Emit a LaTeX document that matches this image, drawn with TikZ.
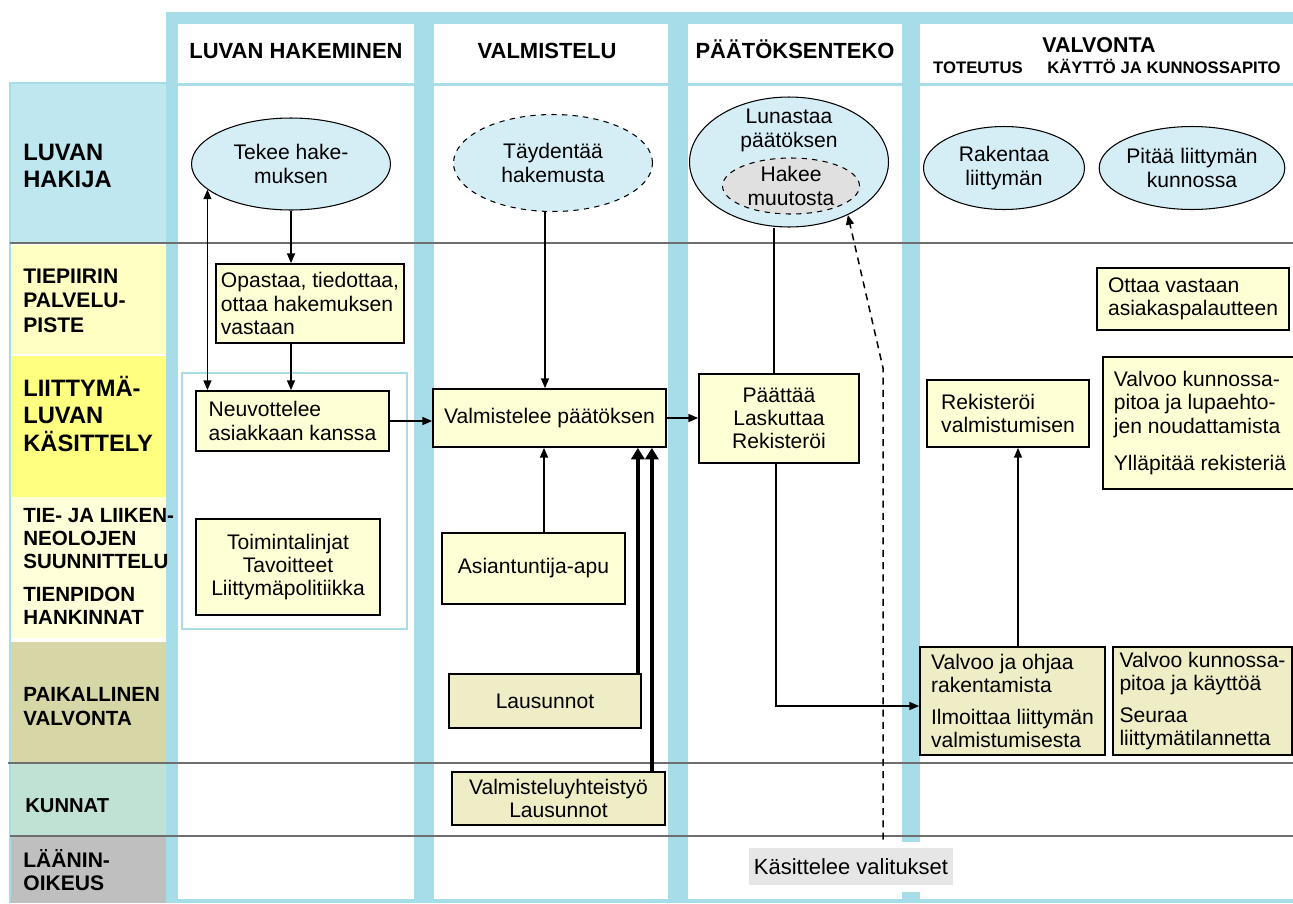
\documentclass[tikz,border=0pt]{standalone}
\usepackage{fontspec}
\setmainfont{Liberation Sans}
\usetikzlibrary{arrows.meta,shapes.geometric}
\definecolor{VYsininen}{HTML}{A6DDE9}
\definecolor{VYsoikio}{HTML}{D5EEF5}
\definecolor{VYlaatikko}{HTML}{FFFFD5}
\definecolor{VYkhaki}{HTML}{EFEDC6}
\definecolor{VYharmaa}{HTML}{E0E0E0}
\definecolor{VYvalitus}{HTML}{E6E6E6}
\definecolor{VYviiva}{HTML}{6E6E6E}
\definecolor{rHakija}{HTML}{BEE7F0}
\definecolor{rPalvelu}{HTML}{FFFFC4}
\definecolor{rKasittely}{HTML}{FFFF80}
\definecolor{rSuunnittelu}{HTML}{FFFFDA}
\definecolor{rValvonta}{HTML}{D6D6A6}
\definecolor{rKunnat}{HTML}{BFE2D4}
\definecolor{rOikeus}{HTML}{BFBFBF}
\newcommand{\leipa}{\fontsize{12}{13.2}\selectfont}
\newcommand{\sarake}[2]{%
  \fill[white] (#1,24) rectangle (#2,83);
  \fill[white] (#1,86) rectangle (#2,899);}
\newcommand{\rivi}[3]{%
  \fill[#3] (10,#1) rectangle (166,#2);}

\begin{document}
\begin{tikzpicture}[x=0.02cm, y=-0.02cm,
  sarakeotsikko/.style={anchor=base, font=\fontsize{12.5}{14}\selectfont\bfseries},
  rivinimi/.style 2 args={anchor=base west, align=left, inner sep=0pt,
    font=\fontsize{#1}{#2}\selectfont\bfseries},
  laatikko/.style={draw, line width=1pt, fill=VYlaatikko, inner sep=0pt, font=\leipa},
  khakilaatikko/.style={laatikko, fill=VYkhaki},
  soikio/.style={ellipse, draw, line width=0.6pt, fill=VYsoikio, inner sep=0pt,
    align=center, font=\leipa},
  nuoli/.style={line width=0.85pt, -{Triangle[length=5.5pt, width=4.5pt]}},
  kaksinuoli/.style={line width=0.85pt,
    {Triangle[length=5.5pt, width=4.5pt]}-{Triangle[length=5.5pt, width=4.5pt]}},
  paksunuoli/.style={line width=2.2pt, -{Triangle[length=6.5pt, width=7.5pt]}},
  katkonuoli/.style={nuoli, dash pattern=on 4pt off 3pt},
  rivinraja/.style={VYviiva, line width=0.8pt}]

\useasboundingbox (0,0) rectangle (1293,903);

% ====================================================================
%
%         Sarakkeet ja rivit
%
% ====================================================================

  % sininen kehys
  \fill[VYsininen] (166,12) rectangle (1293,903);
  \sarake{178}{414}
  \sarake{434}{668}
  \sarake{688}{902}
  \sarake{920}{1293}

  % rivien taustat
  \rivi{83}{243}{rHakija}
  \rivi{245}{354}{rPalvelu}
  \rivi{356}{497}{rKasittely}
  \rivi{497}{638}{rSuunnittelu}
  \rivi{642}{763}{rValvonta}
  \rivi{763}{836}{rKunnat}
  \rivi{836}{903}{rOikeus}
  \draw[VYsininen, line width=0.8pt] (10,903) -- (10,83) -- (166,83);

  % rivien rajat
  \draw[rivinraja] (10,243) -- (1293,243);
  \draw[rivinraja] (8,763) -- (1293,763);
  \draw[rivinraja] (10,836) -- (1293,836);

  % ohut kehys
  \draw[VYsininen, line width=0.7pt] (182,373) rectangle (407,629);
  \fill[white] (900,842) rectangle (922,892);

% ====================================================================
%
%         Otsikot
%
% ====================================================================

  \node[sarakeotsikko] (o-haku) at (296,58) {LUVAN HAKEMINEN};
  \node[sarakeotsikko] (o-valm) at (547,58) {VALMISTELU};
  \node[sarakeotsikko] (o-paat) at (795,58) {PÄÄTÖKSENTEKO};
  \node[sarakeotsikko, font=\fontsize{12.2}{14}\selectfont\bfseries] (o-valv) at (1099,52) {VALVONTA};
  \node[sarakeotsikko, font=\fontsize{9.5}{11}\selectfont\bfseries] (o-tot) at (978,73) {TOTEUTUS};
  \node[sarakeotsikko, font=\fontsize{9.5}{11}\selectfont\bfseries] (o-kaytto) at (1164,73) {KÄYTTÖ JA KUNNOSSAPITO};

  % rivien nimet (ankkuri = viimeisen rivin pohjaviiva)
  \node[rivinimi={13.5}{15.3}] (r-hakija) at (23,187) {LUVAN\\HAKIJA};
  \node[rivinimi={12}{13.9}] (r-palvelu) at (23,332) {TIEPIIRIN\\PALVELU-\\PISTE};
  \node[rivinimi={13.5}{15.6}] (r-kasittely) at (23,451) {LIITTYMÄ-\\LUVAN\\KÄSITTELY};
  \node[rivinimi={11.7}{13}] (r-suunn) at (23,624)
    {TIE- JA LIIKEN-\\NEOLOJEN\\SUUNNITTELU\\[5.7pt]TIENPIDON\\HANKINNAT};
  \node[rivinimi={11.7}{13.3}] (r-valvonta) at (23,725) {PAIKALLINEN\\VALVONTA};
  \node[rivinimi={11.5}{13}] (r-kunnat) at (25,812) {KUNNAT};
  \node[rivinimi={12}{13}] (r-oikeus) at (23,890) {LÄÄNIN-\\OIKEUS};

% ====================================================================
%
%         Soikiot ja laatikot
%
% ====================================================================

  % luvan hakija
  \node[soikio, minimum width=3.98cm, minimum height=1.84cm] (tekee) at (291,164) {Tekee hake-\\muksen};
  \node[soikio, dashed, minimum width=3.98cm, minimum height=1.94cm] (taydentaa) at (553,163) {Täydentää\\hakemusta};
  \node[soikio, minimum width=3.98cm, minimum height=2.6cm] (lunastaa) at (789,162) {};
  \node[anchor=base, align=center, font=\leipa] (lunastaa-t) at (789,147) {Lunastaa\\päätöksen};
  \node[soikio, dashed, fill=VYharmaa, minimum width=2.74cm, minimum height=1.12cm] (hakee) at (791,186) {Hakee\\muutosta};
  \node[soikio, minimum width=3.22cm, minimum height=1.66cm] (rakentaa) at (1004,168) {Rakentaa\\liittymän};
  \node[soikio, minimum width=3.42cm, minimum height=1.66cm] (pitaa) at (1192,168) {Pitää liittymän\\kunnossa};

  % luvan hakeminen
  \node[laatikko, align=left, minimum width=3.76cm, minimum height=1.58cm] (opastaa) at (310,303.5)
    {Opastaa, tiedottaa,\\ottaa hakemuksen\\vastaan};
  \node[laatikko, align=left, minimum width=3.86cm, minimum height=1.2cm] (neuvottelee) at (292.5,421)
    {Neuvottelee\\asiakkaan kanssa};
  \node[laatikko, align=center, minimum width=3.68cm, minimum height=1.92cm] (toiminta) at (288,567)
    {Toimintalinjat\\Tavoitteet\\Liittymäpolitiikka};

  % valmistelu
  \node[laatikko, minimum width=4.66cm, minimum height=1.16cm] (valmistelee) at (549.5,418) {Valmistelee päätöksen};
  \node[laatikko, minimum width=3.66cm, minimum height=1.42cm] (asiantuntija) at (533.5,568.5) {Asiantuntija-apu};
  \node[khakilaatikko, minimum width=3.84cm, minimum height=1.08cm] (lausunnot) at (545,701) {Lausunnot};
  \node[khakilaatikko, align=center, minimum width=4.26cm, minimum height=1.06cm] (valmyht) at (558.5,798.5)
    {Valmisteluyhteistyö\\Lausunnot};

  % päätöksenteko
  \node[laatikko, align=center, minimum width=3.2cm, minimum height=1.78cm] (paattaa) at (779,418.5)
    {Päättää\\Laskuttaa\\Rekisteröi};
  \node[fill=VYvalitus, inner sep=0pt, minimum width=4.08cm, minimum height=0.74cm,
    font=\fontsize{12.5}{14}\selectfont] (kasittelee) at (851,866.5) {Käsittelee valitukset};

  % valvonta
  \node[laatikko, align=left, minimum width=3.84cm, minimum height=1.24cm] (ottaa) at (1193,299)
    {Ottaa vastaan\\asiakaspalautteen};
  \node[laatikko, align=left, minimum width=3.24cm, minimum height=1.34cm] (rekisteroi) at (1008,413.5)
    {Rekisteröi\\valmistumisen};
  \node[laatikko, align=left, minimum width=3.88cm, minimum height=2.64cm] (valvookp) at (1200,423)
    {Valvoo kunnossa-\\pitoa ja lupaehto-\\jen noudattamista\\[8pt]Ylläpitää rekisteriä};
  \node[khakilaatikko, align=left, minimum width=3.7cm, minimum height=2.16cm] (valvooohj) at (1012.5,701)
    {Valvoo ja ohjaa\\rakentamista\\[5pt]Ilmoittaa liittymän\\valmistumisesta};
  \node[khakilaatikko, align=left, minimum width=3.58cm, minimum height=2.16cm] (valvookk) at (1202.5,701)
    {Valvoo kunnossa-\\pitoa ja käyttöä\\[5pt]Seuraa\\liittymätilannetta};

% ====================================================================
%
%         Nuolet
%
% ====================================================================

  \coordinate (a1) at ([xshift=-0.16cm]taydentaa.south);
  \coordinate (a2) at ([xshift=0.21cm]asiantuntija.north);
  \coordinate (a3) at ([xshift=-0.08cm]lausunnot.north east);
  \coordinate (a4) at ([xshift=-0.28cm]valmyht.north east);
  \coordinate (a5) at ([xshift=-0.1cm]paattaa.north);
  \coordinate (a6) at ([xshift=-0.06cm]paattaa.south);
  \coordinate (a7) at ([xshift=0.2cm]rekisteroi.south);
  \coordinate (polvi) at (883,368);

  \draw[nuoli] (tekee.south) -- (tekee.south |- opastaa.north);
  \draw[nuoli] (tekee.south |- opastaa.south) -- (tekee.south |- neuvottelee.north);
  \draw[kaksinuoli] (tekee.197) -- (tekee.197 |- neuvottelee.north);
  \draw[nuoli] (neuvottelee.east) -- (neuvottelee.east -| valmistelee.west);

  \draw[nuoli] (a1) -- (a1 |- valmistelee.north);
  \draw[nuoli] (a2) -- (a2 |- valmistelee.south);
  \draw[paksunuoli] (a3) -- (a3 |- valmistelee.south);
  \draw[paksunuoli] (a4) -- (a4 |- valmistelee.south);
  \draw[nuoli] (valmistelee.east) -- (valmistelee.east -| paattaa.west);

  \draw[line width=0.85pt] (a5 |- lunastaa.south) -- (a5);
  \draw[nuoli] (a6) |- ([yshift=-0.1cm]valvooohj.west);
  \draw[katkonuoli, shorten <=0.16cm] (polvi |- kasittelee.north) -- (polvi) -- (lunastaa.-42);
  \draw[nuoli] (a7 |- valvooohj.north) -- (a7);

\end{tikzpicture}
\end{document}
